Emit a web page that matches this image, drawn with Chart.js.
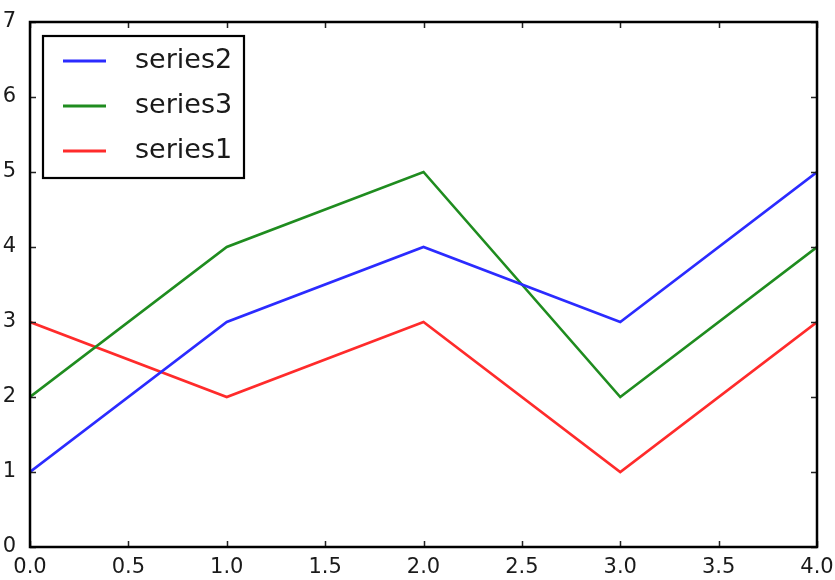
<!DOCTYPE html>
<html>
<head>
<meta charset="utf-8">
<script src="https://cdn.jsdelivr.net/npm/chart.js@4"></script>
<style>
  html, body { margin: 0; padding: 0; background: #fff; }
  #wrap { width: 835px; height: 580px; }
</style>
</head>
<body>
<div id="wrap"><canvas id="chart" width="835" height="580"></canvas></div>
<script>
// data
const xValues = [0, 1, 2, 3, 4];
const series1 = [3, 2, 3, 1, 3];
const series2 = [1, 3, 4, 3, 5];
const series3 = [2, 4, 5, 2, 4];
const xTicks = [0, 0.5, 1, 1.5, 2, 2.5, 3, 3.5, 4];
const yTicks = [0, 1, 2, 3, 4, 5, 6, 7];

const pts = (ys) => ys.map((y, i) => ({ x: xValues[i], y: y }));

// box around the plot + inward ticks on all four sides (matplotlib classic look)
const frame = {
    id: 'frame',
    afterDatasetsDraw(chart) {
        const { ctx, chartArea: a, scales: { x, y } } = chart;
        ctx.save();
        ctx.strokeStyle = '#222';
        ctx.lineWidth = 1.5;
        ctx.beginPath();
        xTicks.forEach(v => {
            const px = Math.round(x.getPixelForValue(v)) + 0.5;
            ctx.moveTo(px, a.bottom); ctx.lineTo(px, a.bottom - 6);
            ctx.moveTo(px, a.top); ctx.lineTo(px, a.top + 6);
        });
        yTicks.forEach(v => {
            const py = Math.round(y.getPixelForValue(v)) + 0.5;
            ctx.moveTo(a.left, py); ctx.lineTo(a.left + 6, py);
            ctx.moveTo(a.right, py); ctx.lineTo(a.right - 6, py);
        });
        ctx.stroke();
        ctx.lineWidth = 2.5;
        ctx.strokeStyle = '#000';
        ctx.strokeRect(a.left, a.top, a.right - a.left, a.bottom - a.top);
        ctx.restore();
    }
};

// legend box in the upper left of the plot
const boxLegend = {
    id: 'boxLegend',
    afterDraw(chart) {
        const { ctx, chartArea: a } = chart;
        const left = a.left + 13, top = a.top + 14, w = 201, h = 142;
        ctx.save();
        ctx.fillStyle = '#fff';
        ctx.fillRect(left, top, w, h);
        ctx.lineWidth = 2.2;
        ctx.strokeStyle = '#000';
        ctx.strokeRect(left, top, w, h);
        ctx.font = '27px "DejaVu Sans"';
        ctx.textBaseline = 'middle';
        chart.data.datasets.forEach((ds, i) => {
            const cy = top + 25 + i * 45;
            ctx.strokeStyle = ds.borderColor;
            ctx.lineWidth = 2.8;
            ctx.beginPath();
            ctx.moveTo(left + 20, cy); ctx.lineTo(left + 63, cy);
            ctx.stroke();
            ctx.fillStyle = '#1a1a1a';
            ctx.fillText(ds.label, left + 92, cy);
        });
        ctx.restore();
    }
};

new Chart(document.getElementById('chart'), {
    type: 'line',
    data: {
        datasets: [
            { label: 'series2', data: pts(series2), borderColor: '#2b2bff' },
            { label: 'series3', data: pts(series3), borderColor: '#1f8c1f' },
            { label: 'series1', data: pts(series1), borderColor: '#ff2b2b' }
        ]
    },
    options: {
        responsive: false,
        animation: false,
        layout: { padding: { left: 0, top: 22, right: 18, bottom: 0 } },
        elements: {
            line: { borderWidth: 2.6, tension: 0 },
            point: { radius: 0 }
        },
        plugins: { legend: { display: false }, tooltip: { enabled: false } },
        scales: {
            x: {
                type: 'linear', min: 0, max: 4,
                afterBuildTicks: s => { s.ticks = xTicks.map(v => ({ value: v })); },
                afterFit: s => { s.height = 33; },
                grid: { display: false },
                border: { display: false },
                ticks: {
                    padding: 0, color: '#1a1a1a',
                    font: { family: '"DejaVu Sans"', size: 21 },
                    callback: v => Number(v).toFixed(1)
                }
            },
            y: {
                min: 0, max: 7,
                afterBuildTicks: s => { s.ticks = yTicks.map(v => ({ value: v })); },
                afterFit: s => { s.width = 30; },
                grid: { display: false },
                border: { display: false },
                ticks: {
                    padding: 6, color: '#1a1a1a',
                    font: { family: '"DejaVu Sans"', size: 21 }
                }
            }
        }
    },
    plugins: [frame, boxLegend]
});
</script>
</body>
</html>
